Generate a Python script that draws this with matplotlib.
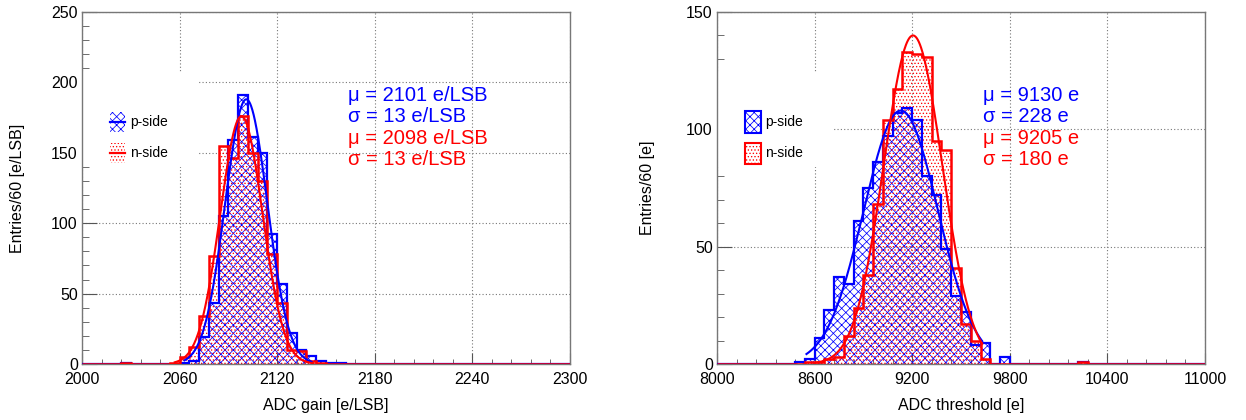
import numpy as np
import matplotlib
matplotlib.use("Agg")
import matplotlib.pyplot as plt
from matplotlib.patches import Rectangle
from matplotlib.ticker import FixedLocator

plt.rcParams['font.family'] = ['Liberation Sans', 'DejaVu Sans']
plt.rcParams['hatch.linewidth'] = 0.55

# ---------------- data: ADC gain ----------------
gain_range = (2000, 2300)
gain_nbins = 50
gain_p = [0, 0, 0, 0, 1, 0, 0, 0, 0, 0,
          1, 2, 19, 43, 105, 159, 191, 161, 150, 92,
          57, 22, 10, 6, 2, 1, 1, 0, 0, 0,
          0, 0, 0, 0, 0, 0, 0, 0, 0, 0,
          0, 0, 0, 0, 0, 0, 0, 0, 0, 0]
gain_n = [0, 0, 0, 0, 1, 0, 0, 0, 0, 1,
          5, 12, 34, 77, 155, 146, 176, 150, 130, 78,
          43, 10, 9, 2, 1, 0, 0, 0, 0, 0,
          0, 0, 0, 0, 0, 0, 0, 0, 0, 0,
          0, 0, 0, 0, 0, 0, 0, 0, 0, 0]
gain_fit_p = (188, 2101, 13)     # amplitude, mu, sigma
gain_fit_n = (176, 2098, 13)
gain_fit_p_range = (2063, 2141)
gain_fit_n_range = (2057, 2142)
gain_text = ["\u03bc = 2101 e/LSB", "\u03c3 = 13 e/LSB", "\u03bc = 2098 e/LSB", "\u03c3 = 13 e/LSB"]

# ---------------- data: ADC threshold ----------------
thr_range = (8000, 11000)
thr_nbins = 50
thr_p = [0, 0, 0, 0, 0, 0, 0, 0, 1, 2,
         11, 23, 37, 34, 61, 75, 86, 97, 107, 109,
         104, 80, 72, 49, 29, 22, 8, 9, 0, 3,
         0, 0, 0, 0, 0, 0, 0, 1, 0, 0,
         0, 0, 0, 0, 0, 0, 0, 0, 0, 0]
thr_n = [0, 0, 0, 0, 0, 0, 0, 0, 0, 1,
         1, 2, 3, 12, 24, 38, 68, 104, 117, 133,
         132, 131, 95, 91, 41, 17, 10, 2, 0, 0,
         0, 0, 0, 0, 0, 0, 0, 1, 0, 0,
         0, 0, 0, 0, 0, 0, 0, 0, 0, 0]
thr_fit_p = (108, 9130, 228)
thr_fit_n = (140, 9205, 180)
thr_fit_p_range = (8550, 9630)
thr_fit_n_range = (8600, 9630)
thr_text = ["\u03bc = 9130 e", "\u03c3 = 228 e", "\u03bc = 9205 e", "\u03c3 = 180 e"]

labels = ["p-side", "n-side"]
BLUE = "#0000ff"
RED = "#ff0000"

fig = plt.figure(figsize=(12.46, 4.2), dpi=100)
ax1 = fig.add_axes([82 / 1246, 56 / 420, 488 / 1246, 352 / 420])
ax2 = fig.add_axes([717 / 1246, 56 / 420, 488 / 1246, 352 / 420])


def gauss(x, p):
    a, m, s = p
    return a * np.exp(-0.5 * ((x - m) / s) ** 2)


def draw_panel(ax, rng, nb, hp, hn, fp, fn, fpr, fnr, texts, xlabel, ylabel,
               ymax, xmaj, ymaj, legend_style, ylab_x):
    edges = np.linspace(rng[0], rng[1], nb + 1)
    ax.set_axisbelow(True)
    # fills
    ax.stairs(hp, edges, fill=True, facecolor="none", edgecolor=BLUE,
              hatch="xxxx", linewidth=0, zorder=2)
    ax.stairs(hn, edges, fill=True, facecolor="none", edgecolor=RED,
              hatch=".....", linewidth=0, zorder=2.1)
    # outlines
    ax.stairs(hp, edges, fill=False, color=BLUE, linewidth=1.6, zorder=3)
    ax.stairs(hn, edges, fill=False, color=RED, linewidth=1.8, zorder=3.1)
    # fits
    xp = np.linspace(fpr[0], fpr[1], 300)
    xn = np.linspace(fnr[0], fnr[1], 300)
    ax.plot(xp, gauss(xp, fp), color=BLUE, lw=1.5, zorder=4)
    ax.plot(xn, gauss(xn, fn), color=RED, lw=1.5, zorder=4.1)

    ax.set_xlim(*rng)
    ax.set_ylim(0, ymax)
    ax.xaxis.set_major_locator(FixedLocator(np.arange(rng[0], rng[1] + 1, xmaj)))
    ax.xaxis.set_minor_locator(FixedLocator(np.arange(rng[0], rng[1] + 1, xmaj / 5)))
    ax.yaxis.set_major_locator(FixedLocator(np.arange(0, ymax + 1, ymaj)))
    ax.yaxis.set_minor_locator(FixedLocator(np.arange(0, ymax + 1, ymaj / 5)))
    ax.tick_params(which="both", direction="in", colors="#555555",
                   labelcolor="black", labelsize=11.5, top=False, right=False)
    ax.tick_params(axis="y", which="major", length=10.5, pad=3)
    ax.tick_params(axis="y", which="minor", length=5.2)
    ax.tick_params(axis="x", which="major", length=7.6, pad=5.5)
    ax.tick_params(axis="x", which="minor", length=3.8)
    for s in ax.spines.values():
        s.set_color("#777777")
        s.set_linewidth(1.0)
    ax.grid(True, which="major", color="#777777", linestyle=(0, (1, 2)), linewidth=0.8)

    ax.set_xlabel(xlabel, fontsize=11.5)
    ax.set_ylabel(ylabel, fontsize=11.5)
    ax.xaxis.set_label_coords(0.5, -0.118)
    ax.xaxis.label.set_va("center")
    ax.yaxis.set_label_coords(ylab_x, 0.5)
    ax.yaxis.label.set_va("center")

    # white legend box hiding grid
    ax.add_patch(Rectangle((0.002, 0.56), 0.238, 0.267, transform=ax.transAxes,
                           facecolor="white", edgecolor="none", zorder=1))
    ys = [0.6875, 0.599]
    cols = [BLUE, RED]
    hatches = ["xxxx", "....."]
    for y, c, h, lab in zip(ys, cols, hatches, labels):
        if legend_style == "line":
            ax.add_patch(Rectangle((0.057, y - 0.028), 0.031, 0.056, transform=ax.transAxes,
                                   facecolor="none", edgecolor=c, hatch=h, linewidth=0, zorder=5))
            ax.plot([0.057, 0.088], [y, y], transform=ax.transAxes, color=c, lw=1.6, zorder=6)
        else:
            ax.add_patch(Rectangle((0.058, y - 0.03), 0.033, 0.06, transform=ax.transAxes,
                                   facecolor="none", edgecolor=c, hatch=h, linewidth=1.5, zorder=5))
        ax.text(0.098, y, lab, transform=ax.transAxes, fontsize=10, va="center",
                ha="left", color="black", zorder=6)

    tys = [0.764, 0.702, 0.642, 0.580]
    tcols = [BLUE, BLUE, RED, RED]
    for t, y, c in zip(texts, tys, tcols):
        ax.text(0.545, y, t, transform=ax.transAxes, fontsize=14.5, color=c,
                va="center", ha="left", zorder=6)


draw_panel(ax1, gain_range, gain_nbins, gain_p, gain_n, gain_fit_p, gain_fit_n,
           gain_fit_p_range, gain_fit_n_range, gain_text,
           "ADC gain [e/LSB]", "Entries/60 [e/LSB]", 250, 60, 50, "line", -0.133)
draw_panel(ax2, thr_range, thr_nbins, thr_p, thr_n, thr_fit_p, thr_fit_n,
           thr_fit_p_range, thr_fit_n_range, thr_text,
           "ADC threshold [e]", "Entries/60 [e]", 150, 600, 50, "box", -0.143)

fig.savefig("out.png", dpi=100)
